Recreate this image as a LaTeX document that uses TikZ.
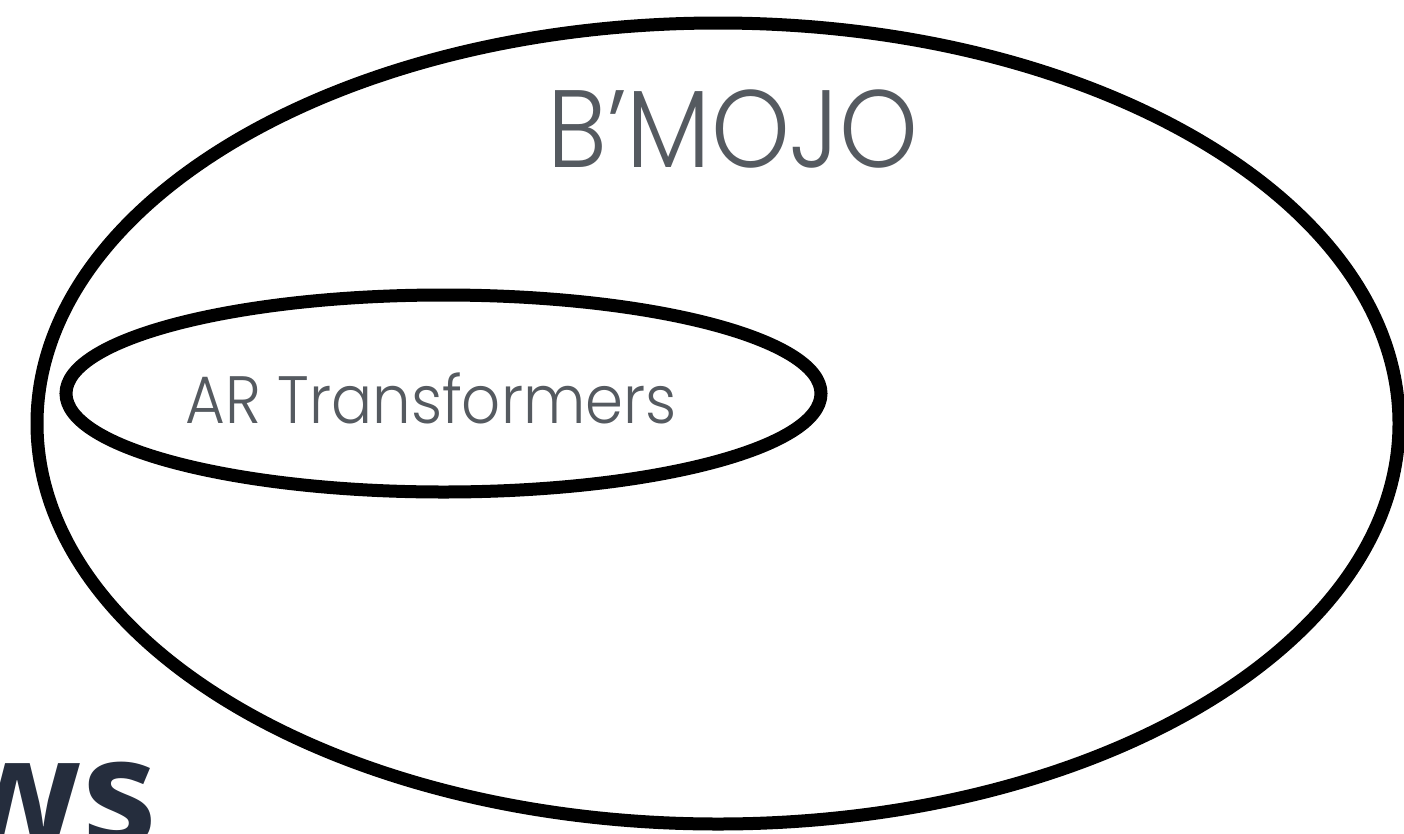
\documentclass[tikz,border=0pt]{standalone}
\usepackage{fontspec}
\newfontfamily\poplight{Poppins Light}[FakeStretch=0.91]
\newfontfamily\opensb{Open Sans}
\definecolor{labelgray}{HTML}{555A60}
\definecolor{navy}{HTML}{252D3D}
\begin{document}
\begin{tikzpicture}[x=1pt,y=-1pt,
  ring/.style={draw=black,line width=13pt},
  lbl/.style={text=labelgray,inner sep=0pt,anchor=base}]
\useasboundingbox (0,0) rectangle (1404,833);
\clip (0,0) rectangle (1404,833);
\fill[white] (0,0) rectangle (1404,833);
\draw[ring] (718,423.5) ellipse [x radius=681, y radius=400.5];
\draw[ring] (443.5,393.5) ellipse [x radius=377.5, y radius=98.5];
\node[lbl] (bmojo) at (733,167) {\fontsize{110}{120}\selectfont\poplight B’MOJO};
\node[lbl] (ar) at (431,423) {\fontsize{67}{75}\selectfont\poplight AR Transformers};
\node[text=navy,inner sep=0pt,anchor=base east] (ws) at (157,845) {\fontsize{150}{160}\selectfont\opensb\bfseries ws};
\end{tikzpicture}
\end{document}
